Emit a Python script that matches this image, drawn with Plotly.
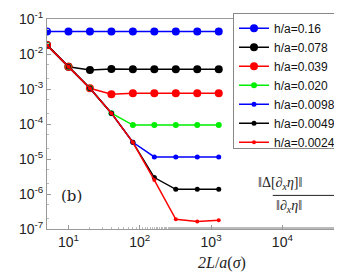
import plotly.graph_objects as go

x_vals = [5, 10, 20, 40, 80, 160, 320, 640, 1280]
labels = ["h/a=0.16", "h/a=0.078", "h/a=0.039", "h/a=0.020", "h/a=0.0098", "h/a=0.0049", "h/a=0.0024"]
err_016 = [0.044, 0.044, 0.044, 0.044, 0.044, 0.044, 0.044, 0.044, 0.044]
err_0078 = [0.018, 0.0043, 0.0035, 0.0037, 0.00366, 0.00366, 0.00366, 0.00366, 0.00366]
err_0039 = [0.018, 0.0043, 0.00105, 0.00071, 0.00075, 0.00075, 0.00075, 0.00075, 0.00075]
err_0020 = [0.018, 0.0043, 0.00105, 0.000204, 9.3e-5, 9.3e-5, 9.3e-5, 9.3e-5, 9.3e-5]
err_00098 = [0.018, 0.0043, 0.00105, 0.000204, 3.0e-5, 1.15e-5, 1.15e-5, 1.15e-5, 1.15e-5]
err_00049 = [0.018, 0.0043, 0.00105, 0.000204, 3.0e-5, 2.95e-6, 1.36e-6, 1.36e-6, 1.36e-6]
err_00024 = [0.018, 0.0043, 0.00105, 0.000204, 3.0e-5, 2.5e-6, 1.9e-7, 1.65e-7, 1.78e-7]

x_tickvals = [10, 100, 1000, 10000]
x_ticktext = ["10<sup>1</sup>", "10<sup>2</sup>", "10<sup>3</sup>", "10<sup>4</sup>"]
y_tickvals = [1e-7, 1e-6, 1e-5, 1e-4, 1e-3, 1e-2, 1e-1]
y_ticktext = ["10<sup>-7</sup>", "10<sup>-6</sup>", "10<sup>-5</sup>", "10<sup>-4</sup>",
              "10<sup>-3</sup>", "10<sup>-2</sup>", "10<sup>-1</sup>"]

series = [err_016, err_0078, err_0039, err_0020, err_00098, err_00049, err_00024]
colors = ["#0000ff", "#000000", "#ff0000", "#00ee00", "#0000ff", "#000000", "#ff0000"]
msizes = [8, 8, 8, 6, 5, 5, 4]

fig = go.Figure()
for lab, ys, c, ms in zip(labels, series, colors, msizes):
    fig.add_trace(go.Scatter(x=x_vals, y=ys, name=lab + "\u00a0\u00a0", mode="lines+markers",
                             line=dict(color=c, width=1.5),
                             marker=dict(color=c, size=ms, symbol="circle")))

axis_common = dict(type="log", showline=True, linecolor="#999999", linewidth=1, mirror=True,
                   ticks="inside", ticklen=4, tickcolor="#999999", showgrid=False, zeroline=False,
                   tickfont=dict(family="Liberation Sans, Arial", size=14, color="#222222"),
                   minor=dict(ticks="inside", ticklen=2, tickcolor="#bbbbbb", showgrid=False))

fig.update_xaxes(range=[0.699, 4.92], tickvals=x_tickvals, ticktext=x_ticktext, **axis_common)
fig.update_yaxes(range=[-7, -1], tickvals=y_tickvals, ticktext=y_ticktext, **axis_common)

fig.update_layout(
    width=342, height=273,
    margin=dict(l=39, r=2, t=11, b=52),
    plot_bgcolor="white", paper_bgcolor="white",
    showlegend=True,
    legend=dict(x=1, xanchor="right", y=1.03, yanchor="top", bgcolor="white",
                bordercolor="#888888", borderwidth=1, tracegroupgap=0, itemwidth=30,
                font=dict(family="Liberation Sans, Arial", size=12, color="#111111")),
)

fig.add_annotation(text="(b)", x=0.083, y=0.156, xref="paper", yref="paper", showarrow=False,
                   xanchor="center", yanchor="middle",
                   font=dict(family="DejaVu Serif, Liberation Serif", size=15, color="#222222"))
fig.add_annotation(text="<i>2L</i>/<i>a</i>(<i>σ</i>)", x=0.58, y=-0.16, xref="paper", yref="paper",
                   showarrow=False, yanchor="middle",
                   font=dict(family="Liberation Serif, DejaVu Serif", size=16, color="#222222"))
fig.add_annotation(text="‖Δ[∂<sub><i>x</i></sub><i>η</i>]‖", x=0.855, y=0.165, xref="paper", yref="paper",
                   showarrow=False, yanchor="bottom",
                   font=dict(family="Liberation Serif, DejaVu Serif", size=14, color="#222222"))
fig.add_annotation(text="‖∂<sub><i>x</i></sub><i>η</i>‖", x=0.855, y=0.155, xref="paper", yref="paper",
                   showarrow=False, yanchor="top",
                   font=dict(family="Liberation Serif, DejaVu Serif", size=14, color="#222222"))
fig.add_shape(type="line", xref="paper", yref="paper", x0=0.75, x1=0.96, y0=0.16, y1=0.16,
              line=dict(color="#222222", width=1))

fig.write_html("out.html")
